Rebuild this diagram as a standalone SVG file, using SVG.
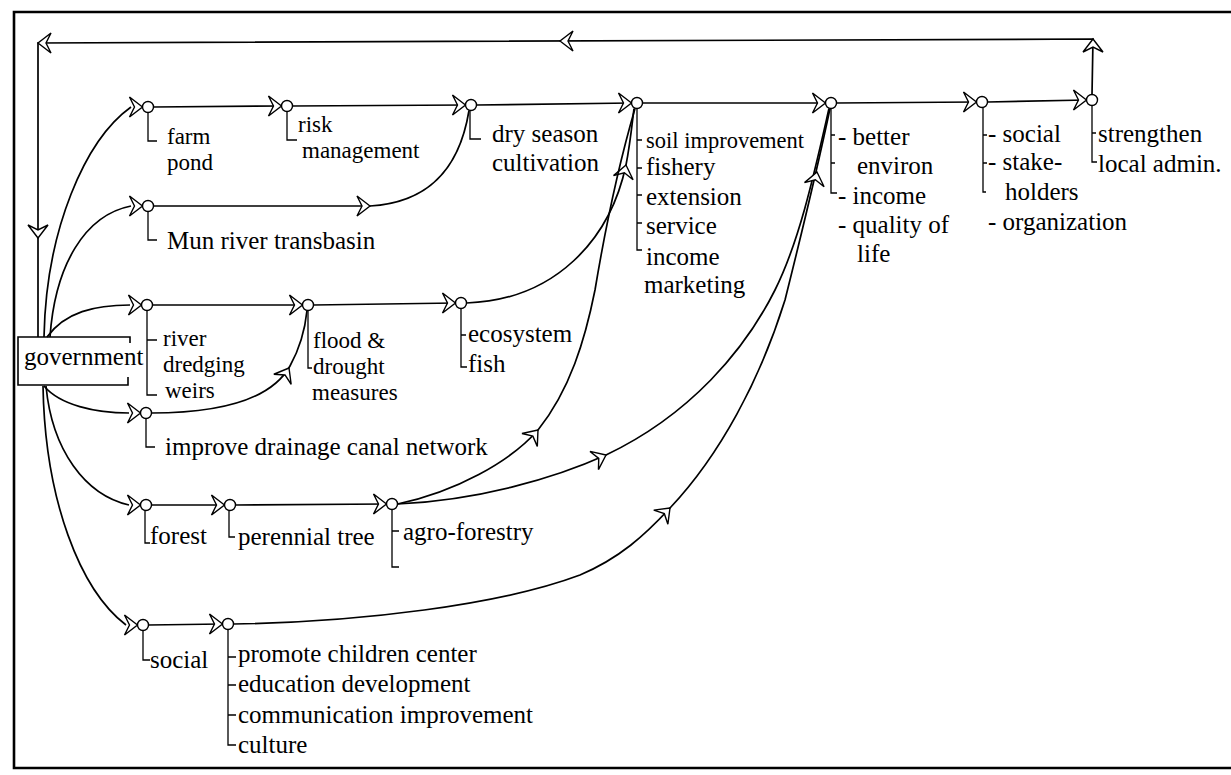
<svg xmlns="http://www.w3.org/2000/svg" xmlns:xlink="http://www.w3.org/1999/xlink" width="1231" height="775" viewBox="0 0 1231 775" font-family="Liberation Serif, Times New Roman, serif">
<style>
.c{fill:none;stroke:#000;stroke-width:1.7}
.b{fill:none;stroke:#000;stroke-width:1.3}
.ah{fill:#fff;stroke:#000;stroke-width:1.4;stroke-linejoin:miter}
.n{fill:#fff;stroke:#000;stroke-width:1.4}
text{font-family:"Liberation Serif","Times New Roman",serif;font-size:25px;fill:#000}
.sm{font-size:22.5px}
.t{font-size:23px}
</style>
<defs>
<path id="ah" class="ah" d="M0,0 L-13,-10 L-8,0 L-13,10 Z"/>
</defs>
<rect width="1231" height="775" fill="#fff"/>
<path d="M1231,12 H14 V768 H1231" fill="none" stroke="#000" stroke-width="2.6"/>

<g id="connectors">
<path class="c" d="M1092,94.5 L1093,39 L38,43 L38,337"/>
<use xlink:href="#ah" transform="translate(1093,39) rotate(-90)"/>
<use xlink:href="#ah" transform="translate(560,41) rotate(180)"/>
<use xlink:href="#ah" transform="translate(38,43) rotate(180)"/>
<use xlink:href="#ah" transform="translate(38,238) rotate(90)"/>

<path class="c" d="M153.5,107 L281.5,106"/>
<path class="c" d="M292.5,106 L465.5,105"/>
<path class="c" d="M476.5,105 L631.5,103"/>
<path class="c" d="M642.5,103 L825.5,103"/>
<path class="c" d="M836.5,103 L976.5,102"/>
<path class="c" d="M987.5,102 L1086.5,100"/>

<path class="c" d="M153.5,206 L370,206 C420,203 458,178 469,110.5"/>
<use xlink:href="#ah" transform="translate(370,206)"/>

<path class="c" d="M152.5,305 L302.5,305"/>
<path class="c" d="M313.5,305 L455.5,303"/>
<path class="c" d="M151.5,413 C225,413 272,398 290,366 C300,348 305,330 307,310.5"/>
<use xlink:href="#ah" transform="translate(289,368) rotate(-60)"/>

<path class="c" d="M151.5,505 L224.5,505"/>
<path class="c" d="M235.5,505 L386.5,504"/>
<path class="c" d="M148.5,625 L222.5,624"/>

<path class="c" d="M466.5,303 C555,300 610,240 626,165 C630,145 632,125 634,108.5"/>
<use xlink:href="#ah" transform="translate(626,165) rotate(-78)"/>

<path class="c" d="M397.5,504 C455,492 510,462 538,430 C570,390 585,340 595,290 C605,230 620,160 635,108.5"/>
<use xlink:href="#ah" transform="translate(538,430) rotate(-50)"/>

<path class="c" d="M397.5,504 C480,500 555,478 606,455 C690,415 745,350 775,290 C800,240 815,170 829,108.5"/>
<use xlink:href="#ah" transform="translate(606,455) rotate(-25)"/>

<path class="c" d="M233.5,624 C360,622 500,605 580,575 C620,558 645,535 670,508 C720,455 760,380 785,300 C800,240 815,180 830,108.5"/>
<use xlink:href="#ah" transform="translate(670,508) rotate(-45)"/>
<use xlink:href="#ah" transform="translate(817,172) rotate(-78)"/>

<path class="c" d="M44,337 C46,230 85,140 131,107"/>
<path class="c" d="M50,337 C55,265 85,215 131,206"/>
<path class="c" d="M47,337 C65,312 95,305 130,305"/>
<path class="c" d="M44,386 C60,405 95,413 129,413"/>
<path class="c" d="M46,386 C52,450 85,495 129,505"/>
<path class="c" d="M43,386 C45,500 80,590 126,625"/>
</g>

<g id="government">
<path d="M130,343 V337 H18 V385 H128 V377" fill="none" stroke="#000" stroke-width="1.6"/>
<text x="24" y="365">government</text>
</g>

<g id="farm-pond">
<use xlink:href="#ah" transform="translate(142.5,107)"/>
<circle class="n" cx="148" cy="107" r="5.5"/>
<path class="b" d="M148,112.5 V141 H157"/>
<text class="t" x="167" y="144">farm</text>
<text class="t" x="167" y="170">pond</text>
</g>

<g id="risk-management">
<use xlink:href="#ah" transform="translate(281.5,106)"/>
<circle class="n" cx="287" cy="106" r="5.5"/>
<path class="b" d="M287,111.5 V140 H297"/>
<text class="t" x="298" y="132">risk</text>
<text class="t" x="302" y="158">management</text>
</g>

<g id="dry-season">
<use xlink:href="#ah" transform="translate(465.5,105)"/>
<circle class="n" cx="471" cy="105" r="5.5"/>
<path class="b" d="M470,110.5 V139 H481"/>
<text x="492" y="142">dry season</text>
<text x="492" y="171">cultivation</text>
</g>

<g id="soil-improvement">
<use xlink:href="#ah" transform="translate(631.5,103)"/>
<circle class="n" cx="637" cy="103" r="5.5"/>
<path class="b" d="M637,108.5 V250 H642 M637,140 H642 M637,168 H642 M637,195 H642 M637,223 H642"/>
<text class="sm" x="646" y="148">soil improvement</text>
<text x="646" y="175">fishery</text>
<text x="646" y="205">extension</text>
<text x="646" y="234">service</text>
<text x="646" y="265">income</text>
<text x="644" y="293">marketing</text>
</g>

<g id="better-environ">
<use xlink:href="#ah" transform="translate(825.5,103)"/>
<circle class="n" cx="831" cy="103" r="5.5"/>
<path class="b" d="M831,108.5 V193 H837 M831,135 H835 M831,163 H835"/>
<text x="838" y="145">- better</text>
<text x="857" y="174">environ</text>
<text x="838" y="204">- income</text>
<text x="838" y="233">- quality of</text>
<text x="857" y="262">life</text>
</g>

<g id="social-stakeholders">
<use xlink:href="#ah" transform="translate(976.5,102)"/>
<circle class="n" cx="982" cy="102" r="5.5"/>
<path class="b" d="M983,107.5 V192 H986 M983,135 H987 M983,163 H987"/>
<text x="988" y="142">- social</text>
<text x="988" y="170">- stake-</text>
<text x="1005" y="200">holders</text>
<text x="988" y="230">- organization</text>
</g>

<g id="strengthen">
<use xlink:href="#ah" transform="translate(1086.5,100)"/>
<circle class="n" cx="1092" cy="100" r="5.5"/>
<path class="b" d="M1092,105.5 V162 H1097 M1092,133 H1096"/>
<text x="1098" y="142">strengthen</text>
<text x="1098" y="172">local admin.</text>
</g>

<g id="mun-river">
<use xlink:href="#ah" transform="translate(142.5,206)"/>
<circle class="n" cx="148" cy="206" r="5.5"/>
<path class="b" d="M148,211.5 V240 H157"/>
<text x="167" y="249">Mun river transbasin</text>
</g>

<g id="river-dredging">
<use xlink:href="#ah" transform="translate(141.5,305)"/>
<circle class="n" cx="147" cy="305" r="5.5"/>
<path class="b" d="M147,310.5 V395 H157 M147,340 H157"/>
<text class="t" x="163" y="346">river</text>
<text class="t" x="163" y="372">dredging</text>
<text class="t" x="165" y="398">weirs</text>
</g>

<g id="flood-drought">
<use xlink:href="#ah" transform="translate(302.5,305)"/>
<circle class="n" cx="308" cy="305" r="5.5"/>
<path class="b" d="M308,310.5 V368 H312"/>
<text class="t" x="313" y="348">flood &amp;</text>
<text class="t" x="313" y="374">drought</text>
<text class="t" x="312" y="400">measures</text>
</g>

<g id="ecosystem">
<use xlink:href="#ah" transform="translate(455.5,303)"/>
<circle class="n" cx="461" cy="303" r="5.5"/>
<path class="b" d="M461,308.5 V367 H467 M461,335 H466"/>
<text x="468" y="342">ecosystem</text>
<text x="468" y="372">fish</text>
</g>

<g id="drainage">
<use xlink:href="#ah" transform="translate(140.5,413)"/>
<circle class="n" cx="146" cy="413" r="5.5"/>
<path class="b" d="M146,418.5 V447 H155"/>
<text x="165" y="455">improve drainage canal network</text>
</g>

<g id="forest">
<use xlink:href="#ah" transform="translate(140.5,505)"/>
<circle class="n" cx="146" cy="505" r="5.5"/>
<path class="b" d="M145,510.5 V543 H150"/>
<text x="150" y="544">forest</text>
</g>

<g id="perennial-tree">
<use xlink:href="#ah" transform="translate(224.5,505)"/>
<circle class="n" cx="230" cy="505" r="5.5"/>
<path class="b" d="M229,510.5 V537 H235"/>
<text x="238" y="545">perennial tree</text>
</g>

<g id="agro-forestry">
<use xlink:href="#ah" transform="translate(386.5,504)"/>
<circle class="n" cx="392" cy="504" r="5.5"/>
<path class="b" d="M392,509.5 V567 H399 M392,531 H399"/>
<text x="403" y="540">agro-forestry</text>
</g>

<g id="social">
<use xlink:href="#ah" transform="translate(137.5,625)"/>
<circle class="n" cx="143" cy="625" r="5.5"/>
<path class="b" d="M143,630.5 V660 H150"/>
<text x="150" y="668">social</text>
</g>

<g id="promote">
<use xlink:href="#ah" transform="translate(222.5,624)"/>
<circle class="n" cx="228" cy="624" r="5.5"/>
<path class="b" d="M228,629.5 V745 H236 M228,657 H236 M228,685 H236 M228,715 H236"/>
<text x="238" y="662">promote children center</text>
<text x="238" y="692">education development</text>
<text x="238" y="723">communication improvement</text>
<text x="238" y="753">culture</text>
</g>
</svg>
